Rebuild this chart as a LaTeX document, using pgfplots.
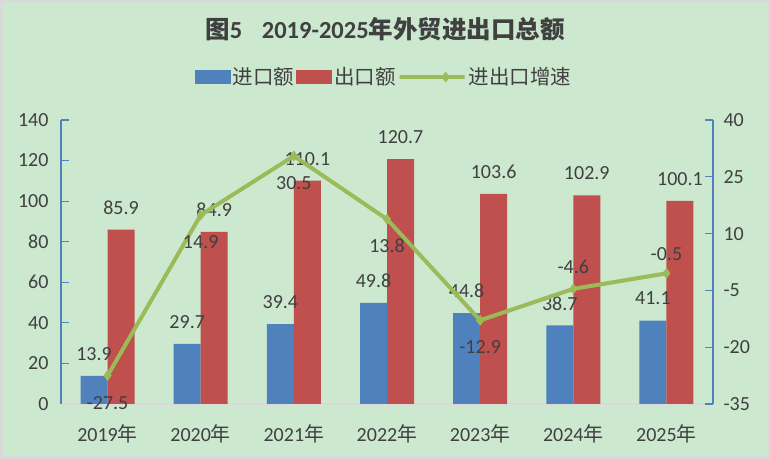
\documentclass[border=0pt]{standalone}
\usepackage{fontspec}
\setmainfont{Carlito}
\newfontfamily\cjk{Noto Sans CJK SC}
\usepackage{pgfplots}
\pgfplotsset{compat=1.18}
\usepackage{pgfplotstable}
\definecolor{bg}{HTML}{CCE8CF}
\definecolor{cblue}{HTML}{4F81BD}
\definecolor{cred}{HTML}{C0504D}
\definecolor{cgreen}{HTML}{9BBB59}
\definecolor{txt}{HTML}{404040}
\definecolor{lgray}{HTML}{D9D9D9}

\pgfplotstableread{
x imp implab exp explab
0 13.9 13.9 85.9 85.9
1 29.7 29.7 84.9 84.9
2 39.4 39.4 110.1 110.1
3 49.8 49.8 120.7 120.7
4 44.8 44.8 103.6 103.6
5 38.7 38.7 102.9 102.9
6 41.1 41.1 100.1 100.1
}\bars

\pgfplotstableread{
x g glab dy
0 -27.5 -27.5 -27
1 14.9 14.9 -27
2 30.5 30.5 -27
3 13.8 13.8 -27
4 -12.9 -12.9 -27
5 -4.6 -4.6 22
6 -0.5 -0.5 19
}\growth

\newcommand\lfont{\fontsize{20bp}{24bp}\selectfont}
\newcommand\legfont{\fontsize{20.5bp}{24bp}\selectfont}
\pgfplotsset{lineleg/.style={legend image code/.code={\draw[mark repeat=2, mark phase=2, ##1] plot coordinates {(0bp,0bp) (19bp,0bp) (38bp,0bp)};}}}

\begin{document}
\begin{tikzpicture}
\fill[bg] (0,0) rectangle (770bp,459bp);
\draw[lgray, line width=2.5bp] (1.25bp,1.25bp) rectangle (768.75bp,457.75bp);

\begin{axis}[
  at={(61bp,55bp)}, anchor=south west,
  scale only axis, width=652bp, height=284bp,
  xmin=-0.5, xmax=6.5, ymin=0, ymax=140,
  ytick={0,20,...,140},
  xtick={0,...,6},
  xticklabels={2019{\cjk 年},2020{\cjk 年},2021{\cjk 年},2022{\cjk 年},2023{\cjk 年},2024{\cjk 年},2025{\cjk 年}},
  axis x line*=bottom, axis y line*=left,
  axis line style={-},
  x axis line style={draw=lgray, line width=2bp},
  y axis line style={draw=cblue, line width=1.25bp},
  xtick style={draw=none},
  ytick style={draw=cblue, line width=1.25bp},
  major tick length=8bp, tick align=inside,
  tick label style={font=\lfont, text=txt},
  /pgf/number format/assume math mode=true,
  xticklabel style={anchor=center, yshift=-22bp},
  yticklabel style={xshift=-9bp},
  ybar=0pt, bar width=27bp,
  legend columns=3,
  legend style={at={(0.5,1)}, anchor=center, yshift=43bp, xshift=-3bp,
    draw=none, fill=none, font=\legfont, text=txt},
]
\addplot[fill=cblue, draw=none,
  legend image code/.code={\fill[cblue] (0bp,-7bp) rectangle (36bp,7bp);},
  nodes near coords, point meta=explicit symbolic,
  every node near coord/.append style={anchor=center, yshift=22bp, font=\lfont, text=txt}]
  table[x=x, y=imp, meta=implab]{\bars};
\addlegendentry{\cjk 进口额}
\addplot[fill=cred, draw=none,
  legend image code/.code={\fill[cred] (0bp,-7bp) rectangle (36bp,7bp);},
  nodes near coords, point meta=explicit symbolic,
  every node near coord/.append style={anchor=center, yshift=22bp, font=\lfont, text=txt}]
  table[x=x, y=exp, meta=explab]{\bars};
\addlegendentry{\cjk 出口额}
\addlegendimage{cgreen, line width=4bp, mark=diamond*, mark size=5bp,
  mark options={solid, fill=cgreen, line width=0.5bp}, lineleg}
\addlegendentry{\cjk 进出口增速}
\end{axis}

\begin{axis}[
  at={(61bp,55bp)}, anchor=south west,
  scale only axis, width=652bp, height=284bp,
  xmin=-0.5, xmax=6.5, ymin=-35, ymax=40,
  ytick={-35,-20,...,40},
  axis x line=none, axis y line*=right,
  axis line style={-},
  y axis line style={draw=cblue, line width=1.25bp},
  ytick style={draw=cblue, line width=1.25bp},
  major tick length=8bp, tick align=inside,
  tick label style={font=\lfont, text=txt},
  /pgf/number format/assume math mode=true,
  yticklabel style={xshift=7bp},
]
\addplot[cgreen, line width=4bp, mark=diamond*, mark size=5bp,
  mark options={solid, fill=cgreen, line width=0.5bp},
  nodes near coords, point meta=explicit symbolic,
  visualization depends on={\thisrow{dy}\as\dy},
  every node near coord/.append style={anchor=center, yshift=\dy*1bp, font=\lfont, text=txt}]
  table[x=x, y=g, meta=glab]{\growth};
\end{axis}

\node[font=\fontsize{24.5bp}{28bp}\selectfont\bfseries, text=txt] at (385bp,430bp)
  {{\cjk 图}5{\cjk \hspace{0.8em}}2019-2025{\cjk 年外贸进出口总额}};

\pgfresetboundingbox
\useasboundingbox (0,0) rectangle (770bp,459bp);
\end{tikzpicture}
\end{document}
